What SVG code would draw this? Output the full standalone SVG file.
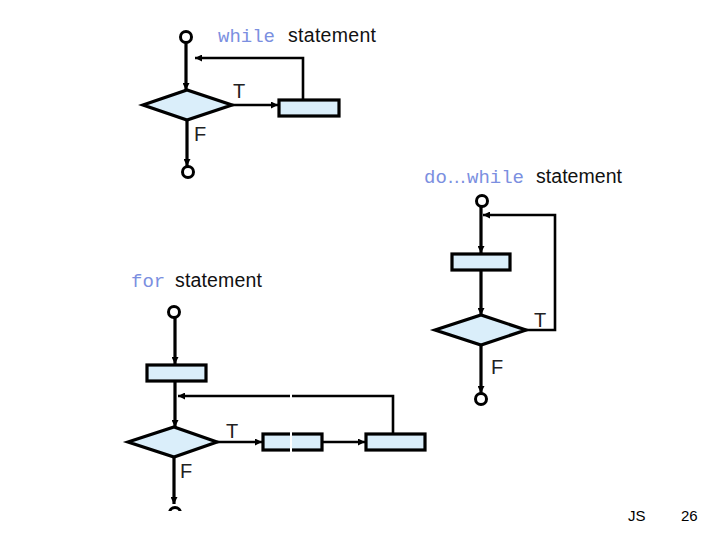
<svg xmlns="http://www.w3.org/2000/svg" width="720" height="540" viewBox="0 0 720 540">
<style>
.box{fill:#daeefa;stroke:#000;stroke-width:3.2}
.dia{fill:#daeefa;stroke:#000;stroke-width:3.2;stroke-linejoin:miter}
.term{fill:#fff;stroke:#000;stroke-width:3}
.ln{fill:none;stroke:#000;stroke-width:3.2}
.lt{fill:none;stroke:#000;stroke-width:2.6}
.kw{font-family:"Liberation Mono",monospace;font-size:19px;fill:#7b8fe0}
.st{font-family:"Liberation Sans",Arial,sans-serif;font-size:19.5px;fill:#111}
.lb{font-family:"Liberation Sans",Arial,sans-serif;font-size:20px;fill:#222}
.ft{font-family:"Liberation Sans",Arial,sans-serif;font-size:15px;fill:#000}
</style>
<defs>
<marker id="ah" viewBox="0 0 10 10" refX="10" refY="5" markerWidth="8" markerHeight="7" markerUnits="userSpaceOnUse" orient="auto">
<path d="M0,0 L10,5 L0,10 z" fill="#000"/>
</marker>
<clipPath id="clipBottom"><rect x="0" y="0" width="720" height="511"/></clipPath>
</defs>
<rect width="720" height="540" fill="#fff"/>

<!-- titles -->
<text class="kw" x="218" y="42">while</text>
<text class="st" x="288" y="42" textLength="88">statement</text>
<text class="kw" x="424" y="183">do</text>
<text class="st" x="447" y="183" style="fill:#7b8fe0">…</text>
<text class="kw" x="467" y="183">while</text>
<text class="st" x="536" y="183" textLength="86">statement</text>
<text class="kw" x="131" y="287">for</text>
<text class="st" x="175" y="287" textLength="87">statement</text>

<g id="connectors">
<!-- while -->
<line class="ln" x1="186" y1="43" x2="186" y2="90" marker-end="url(#ah)"/>
<polyline class="lt" points="303,100 303,58 195,58" marker-end="url(#ah)"/>
<line class="lt" x1="232" y1="105" x2="278" y2="105" marker-end="url(#ah)"/>
<line class="ln" x1="187" y1="120" x2="187" y2="166" marker-end="url(#ah)"/>
<!-- do-while -->
<line class="ln" x1="481" y1="207" x2="481" y2="253" marker-end="url(#ah)"/>
<line class="ln" x1="481" y1="270" x2="481" y2="315" marker-end="url(#ah)"/>
<polyline class="lt" points="525,330 555,330 555,215 483,215" marker-end="url(#ah)"/>
<line class="ln" x1="481" y1="345" x2="481" y2="393" marker-end="url(#ah)"/>
<!-- for -->
<line class="ln" x1="175" y1="318" x2="175" y2="364" marker-end="url(#ah)"/>
<line class="ln" x1="175" y1="381" x2="175" y2="427" marker-end="url(#ah)"/>
<polyline class="lt" points="393,433 393,396 178,396" marker-end="url(#ah)"/>
<line class="lt" x1="217" y1="442" x2="262" y2="442" marker-end="url(#ah)"/>
<line class="lt" x1="322" y1="442" x2="365" y2="442" marker-end="url(#ah)"/>
<line class="ln" x1="174" y1="457" x2="174" y2="504" marker-end="url(#ah)" clip-path="url(#clipBottom)"/>
</g>

<!-- while nodes -->
<g id="while-start"><circle class="term" cx="186" cy="37" r="5.5"/></g>
<g id="while-cond"><polygon class="dia" points="143,105 187,90 232,105 187,120"/><text class="lb" x="233" y="98">T</text><text class="lb" x="194" y="141">F</text></g>
<g id="while-body"><rect class="box" x="279" y="100" width="60" height="16"/></g>
<g id="while-end"><circle class="term" cx="188" cy="172" r="5.5"/></g>

<!-- do-while nodes -->
<g id="do-start"><circle class="term" cx="482" cy="201" r="5.5"/></g>
<g id="do-body"><rect class="box" x="452" y="254" width="58" height="16"/></g>
<g id="do-cond"><polygon class="dia" points="435,330 481,315 526,330 481,345"/><text class="lb" x="534" y="327">T</text><text class="lb" x="491" y="374">F</text></g>
<g id="do-end"><circle class="term" cx="481" cy="399" r="5.5"/></g>

<!-- for nodes -->
<g id="for-start"><circle class="term" cx="174" cy="312" r="5.5"/></g>
<g id="for-init"><rect class="box" x="147" y="365" width="59" height="16"/></g>
<g id="for-cond"><polygon class="dia" points="128,442 174,427 217,442 174,457"/><text class="lb" x="226" y="438">T</text><text class="lb" x="180" y="478">F</text></g>
<g id="for-body"><rect class="box" x="263" y="434" width="59" height="16"/></g>
<g id="for-update"><rect class="box" x="366" y="434" width="59" height="16"/></g>
<g id="for-end" clip-path="url(#clipBottom)"><circle class="term" cx="175" cy="513" r="5.5"/></g>

<!-- image seam -->
<line x1="291" y1="388" x2="291" y2="452" stroke="#fff" stroke-width="2"/>

<text class="ft" x="628" y="521">JS</text>
<text class="ft" x="681" y="521">26</text>
</svg>
